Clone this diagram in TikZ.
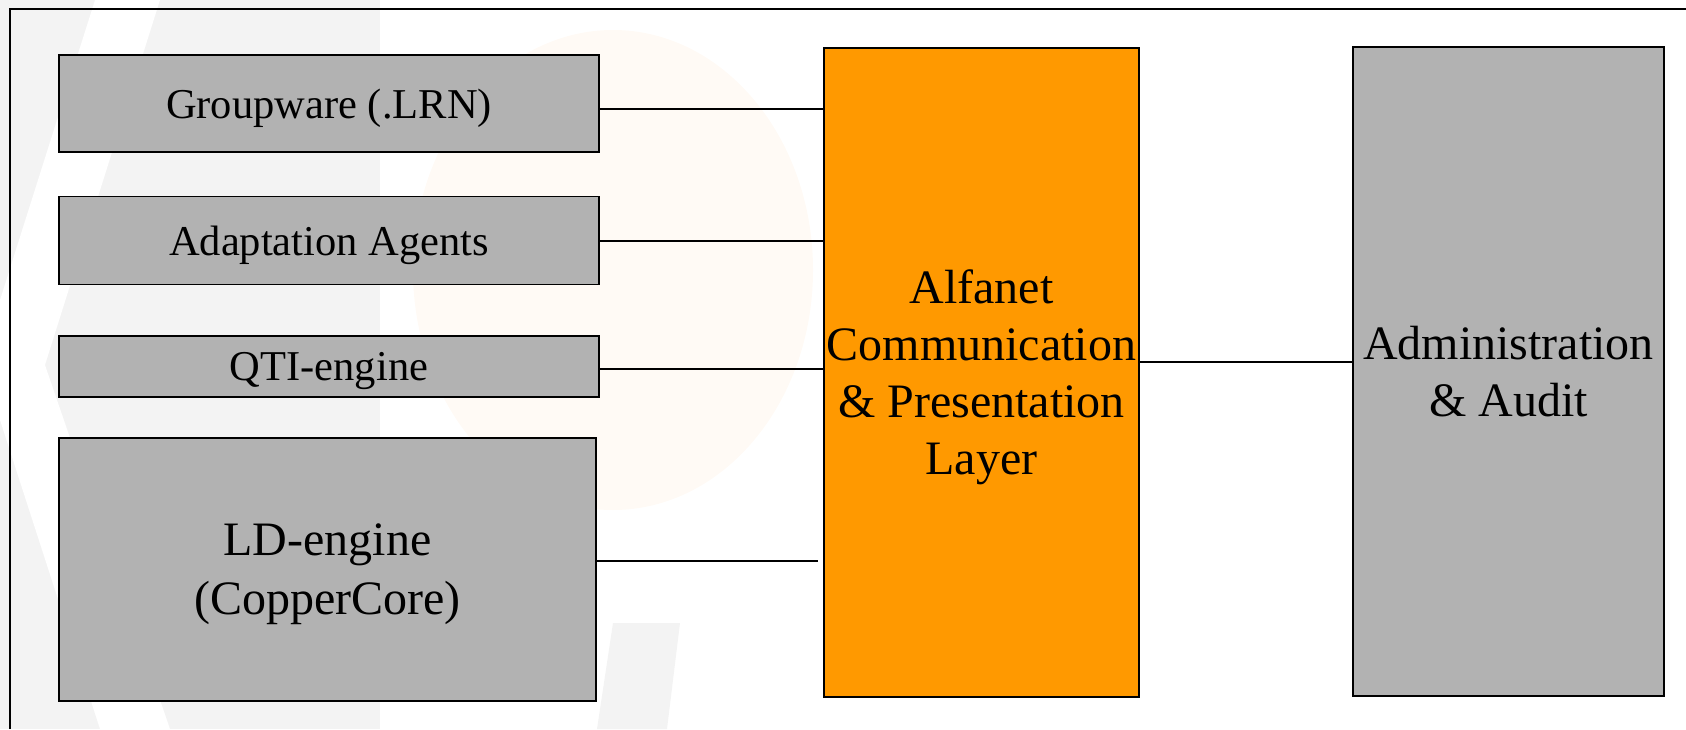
\documentclass[tikz,border=0pt]{standalone}
\usepackage{fontspec}
\setmainfont{Liberation Serif}
\usetikzlibrary{positioning}
\definecolor{boxgray}{RGB}{178,178,178}
\definecolor{layerorange}{RGB}{255,153,0}
\definecolor{markgray}{RGB}{243,243,243}
\definecolor{markorange}{RGB}{255,250,245}

\begin{document}
\begin{tikzpicture}
	[ x=0.5pt, y=-0.5pt,
		module/.style={rectangle,draw,line width=0.8pt,fill=boxgray,inner sep=0pt,align=center,text depth=0pt,minimum width=270pt,font=\fontsize{21.25}{25}\selectfont},
		bigmodule/.style={module,font=\fontsize{24}{29.5}\selectfont},
		layer/.style={rectangle,draw,line width=0.8pt,inner sep=0pt,align=center,text depth=0pt,minimum height=324.5pt,font=\fontsize{24}{28.5}\selectfont},
		link/.style={-,line width=1pt}]

	\useasboundingbox (0,0) rectangle (1686,729);

	% faint slide watermark
	\fill[markgray] (0,0) rectangle (380,729);
	\fill[white] (95,0) -- (160,0) -- (45,365) -- (170,729) -- (100,729) -- (0,420) -- (0,300) -- cycle;
	\fill[markorange] (613,270) ellipse [x radius=200, y radius=240];
	\fill[markgray] (613,623) -- (680,623) -- (667,729) -- (597,729) -- cycle;

	% frame
	\draw[line width=1pt] (10,729) -- (10,9) -- (1686,9);

	\node[module, minimum height=48.5pt] (groupware) at (329,103.5) {Groupware (.LRN)};
	\node[module, minimum height=44pt] (agents) [below=21.5pt of groupware] {Adaptation Agents};
	\node[module, minimum height=30.5pt] (qti) [below=25pt of agents] {QTI-engine};
	\node[bigmodule, minimum width=268.5pt, minimum height=131.5pt] (ld) [below right=19.5pt and 0pt of qti.south west] {LD-engine\\(CopperCore)};
	\node[layer, fill=layerorange, minimum width=157.5pt] (alfanet) at (981.5,372.5) {Alfanet\\Communication\\\& Presentation\\Layer};
	\node[layer, fill=boxgray, minimum width=155.5pt] (admin) at (1508.5,371.5) {Administration\\\& Audit};

	\draw[link] (groupware.east) ++(0,-2.75pt) coordinate (gw out) -- (gw out -| alfanet.west);
	\draw[link] (agents.east) -- (agents.east -| alfanet.west);
	\draw[link] (qti.east) ++(0,-1.25pt) coordinate (qti out) -- (qti out -| alfanet.west);
	\draw[link, shorten >=2.5pt] (ld.east) ++(0,4.25pt) coordinate (ld out) -- (ld out -| alfanet.west);
	\draw[link] (alfanet.east) ++(0,5.25pt) coordinate (layer out) -- (layer out -| admin.west);
\end{tikzpicture}
\end{document}
